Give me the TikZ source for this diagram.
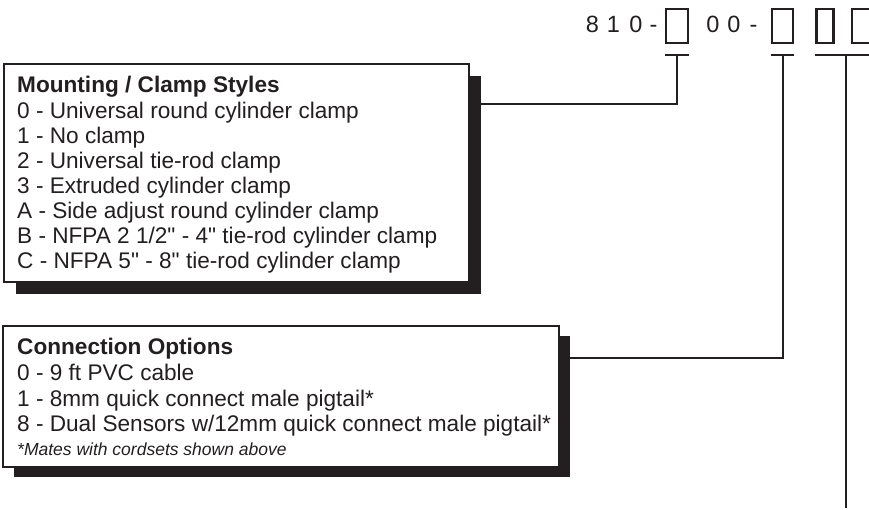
\documentclass[tikz,border=0pt]{standalone}
\usepackage{fontspec}
\setmainfont{Liberation Sans}
\newfontfamily\qfont{Liberation Sans}
\usetikzlibrary{shadows}
\definecolor{ink}{HTML}{231F20}
\newcommand{\qd}{{\qfont\symbol{34}}}
\begin{document}
\begin{tikzpicture}[x=1pt,y=-1pt,
  frame/.style={draw=ink, line width=1.4pt, fill=white, inner sep=0pt, rectangle,
    drop shadow={shadow xshift=12pt, shadow yshift=-12pt, fill=ink, opacity=1}},
  frametwo/.style={draw=ink, line width=1.4pt, fill=white, inner sep=0pt, rectangle,
    drop shadow={shadow xshift=11pt, shadow yshift=-10pt, fill=ink, opacity=1}},
  codebox/.style={draw=ink, line width=2.2pt, inner sep=0pt, minimum height=34pt, minimum width=#1},
  digit/.style={text=ink, inner sep=0pt, anchor=base, font=\fontsize{23.5}{26}\selectfont},
  txt/.style={text=ink, inner sep=0pt, anchor=base west, font=\fontsize{22.6}{25}\selectfont},
  note/.style={text=ink, inner sep=0pt, anchor=base west, font=\fontsize{17.5}{20}\selectfont\itshape},
  conn/.style={draw=ink, line width=2pt},
]
\useasboundingbox (0,0) rectangle (869,509);

% code header
\node[digit] (c1) at (592.5,32) {8};
\node[digit] (c2) at (613.5,32) {1};
\node[digit] (c3) at (636,32) {0};
\node[digit] (c4) at (653.5,32) {-};
\node[codebox=22pt] (b1) at (677,26) {};
\node[digit] (c5) at (713,32) {0};
\node[digit] (c6) at (734,32) {0};
\node[digit] (c7) at (753.5,32) {-};
\node[codebox=21pt] (b2) at (782.5,26) {};
\node[codebox=17pt] (b3) at (825,26) {};
\node[codebox=22pt] (b4) at (863,26) {};

% mounting box
\node[frame, minimum width=465pt, minimum height=218pt] (mount) at (236.5,173) {};
\node[txt] (m0) at (17,92) {\bfseries Mounting / Clamp Styles};
\node[txt] (m1) at (17,118) {0 - Universal round cylinder clamp};
\node[txt] (m2) at (17,143) {1 - No clamp};
\node[txt] (m3) at (17,168) {2 - Universal tie-rod clamp};
\node[txt] (m4) at (17,193) {3 - Extruded cylinder clamp};
\node[txt] (m5) at (17,218) {A - Side adjust round cylinder clamp};
\node[txt] (m6) at (17,243) {B - NFPA 2 1/2\qd{} - 4\qd{} tie-rod cylinder clamp};
\node[txt] (m7) at (17,268) {C - NFPA 5\qd{} - 8\qd{} tie-rod cylinder clamp};

% connection box
\node[frametwo, minimum width=556pt, minimum height=141pt] (cbox) at (281,396.5) {};
\node[txt] (k0) at (17,354) {\bfseries Connection Options};
\node[txt] (k1) at (17,380) {0 - 9 ft PVC cable};
\node[txt] (k2) at (17,406) {1 - 8mm quick connect male pigtail*};
\node[txt] (k3) at (17,431) {8 - Dual Sensors w/12mm quick connect male pigtail*};
\node[note] (k4) at (17,455) {*Mates with cordsets shown above};

% connectors
\coordinate (t1) at (677,55);
\coordinate (j1) at (677,104);
\coordinate (t2) at (783,55);
\coordinate (j2) at (783,358);
\coordinate (t3) at (846,55);
\coordinate (e3) at (846,508);

\draw[conn] (b1.south west |- t1) -- (b1.south east |- t1);
\draw[conn] (t1) -- (j1) -- (mount.east |- j1);
\draw[conn] (b2.south west |- t2) -- (b2.south east |- t2);
\draw[conn] (t2) -- (j2) -- (cbox.east |- j2);
\draw[conn] (b3.south west |- t3) -- (b4.south east |- t3);
\draw[conn] (t3) -- (e3);
\end{tikzpicture}
\end{document}
